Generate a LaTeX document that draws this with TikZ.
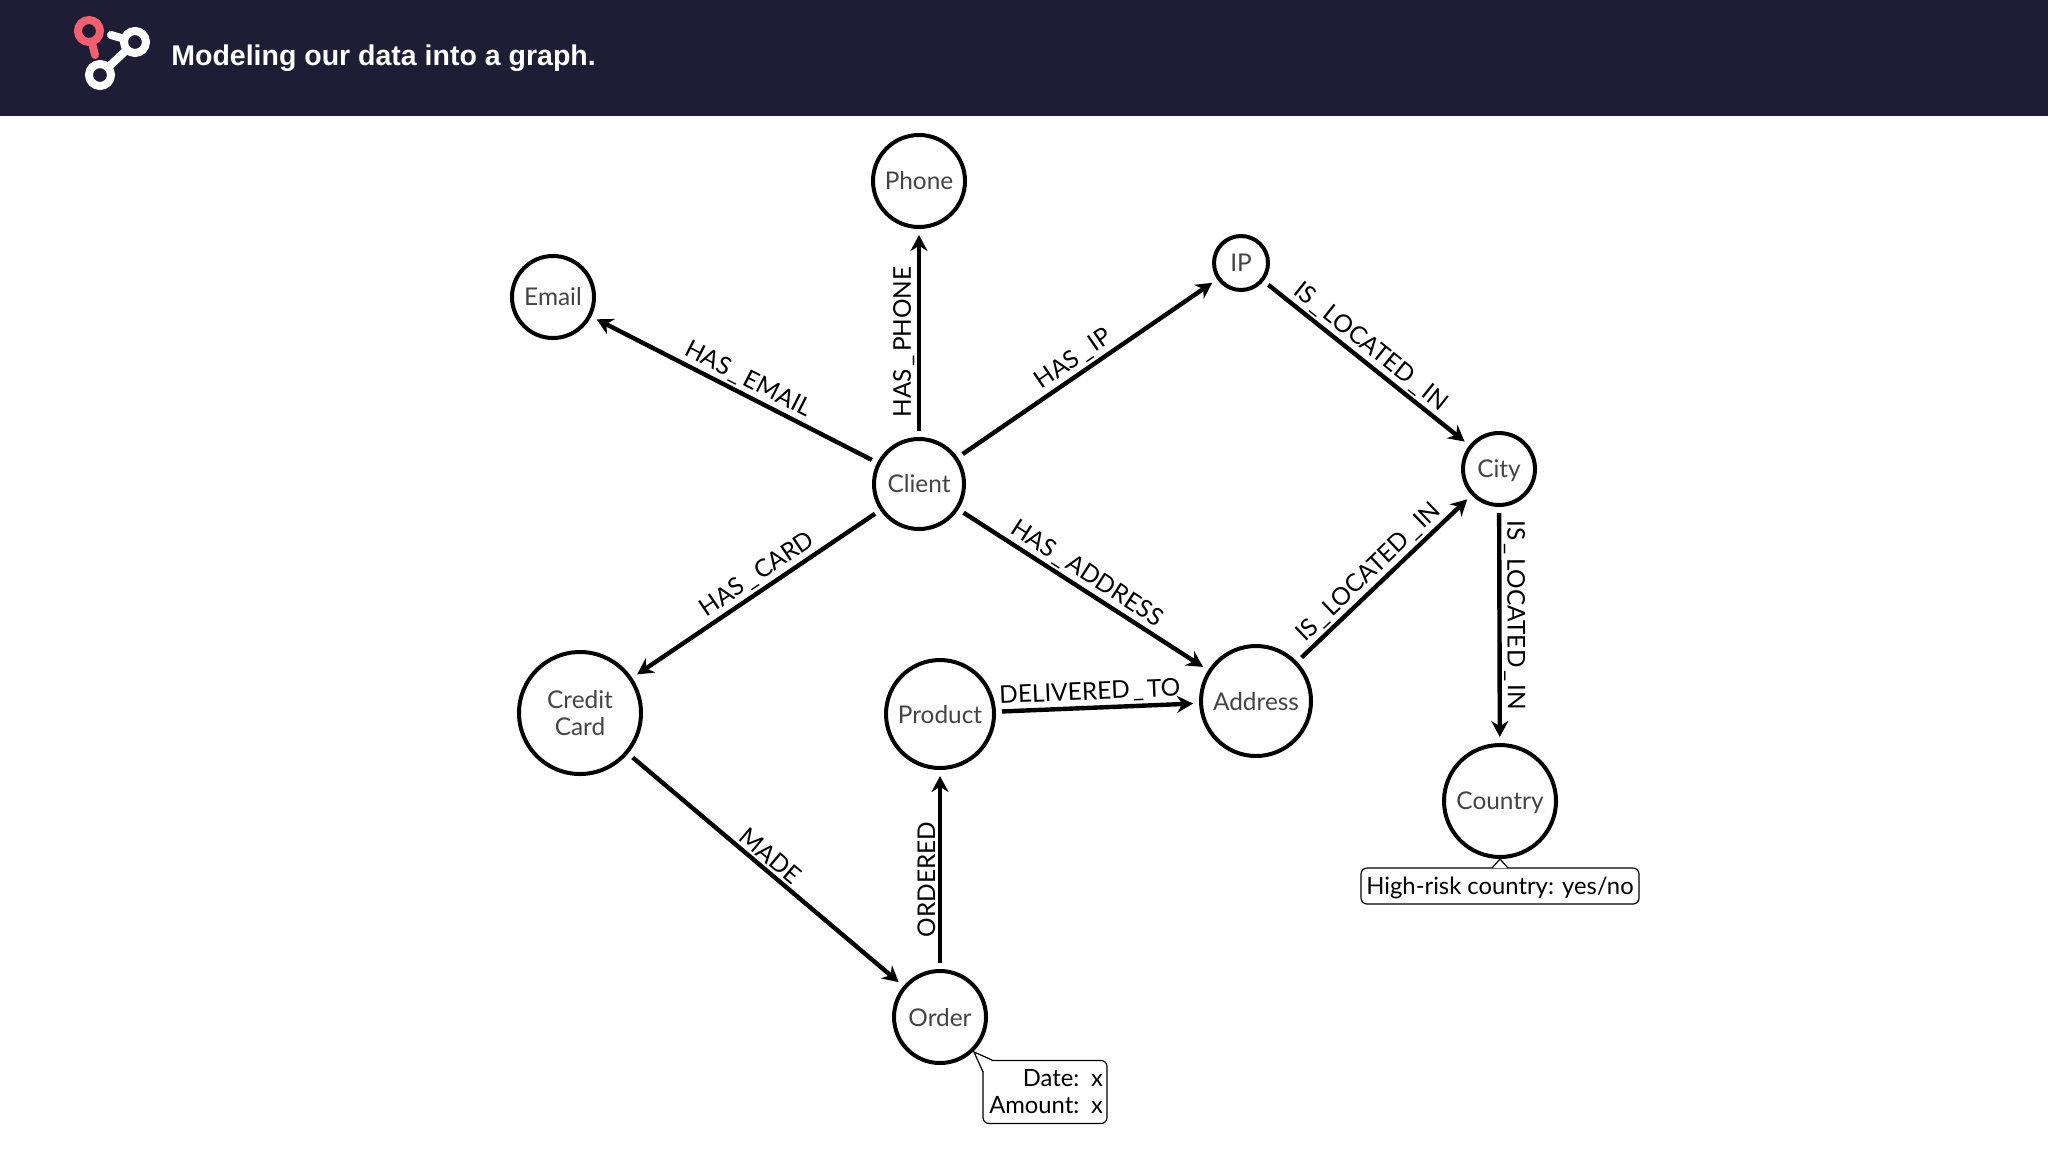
\documentclass[tikz,border=0pt]{standalone}
\usepackage{fontspec}
\setmainfont{Lato}
\newfontfamily\headfont{Liberation Sans}
\usepackage{xcolor}
\usetikzlibrary{arrows.meta,shapes.geometric}
\definecolor{headbg}{HTML}{1F1D36}
\definecolor{logored}{HTML}{F25F6E}
\definecolor{nodetext}{HTML}{444444}
\newcommand{\lowbar}{\kern1.5pt\_\kern1.5pt}

\begin{document}
\begin{tikzpicture}[
    x=0.5pt, y=-0.5pt,
    entity/.style={circle, draw, line width=2pt, inner sep=0pt, fill=white, align=center, text=nodetext, text depth=-1pt, font=\fontsize{12.2}{13.5}\selectfont, minimum size=#1},
    rel/.style={->, line width=2.2pt, shorten >=3pt, shorten <=3pt},
    rellabel/.style={sloped, above, inner sep=1.2pt, font=\fontsize{12.2}{13}\selectfont},
    propbox/.style={rectangle, draw, line width=0.6pt, rounded corners=3pt, inner sep=0pt, align=right, font=\fontsize{11.9}{13.5}\selectfont},
    proptip/.style={draw, line width=0.6pt, fill=white},
    logoring/.style={circle, draw, line width=4pt, inner sep=0pt, minimum size=11pt},
    logolink/.style={line width=4pt, line cap=round},
    >={Stealth[length=8pt,width=8.5pt]}
]
    \useasboundingbox (0,0) rectangle (2048,1152);

    % Header
    \fill[headbg] (0,0) rectangle (2048,116);
    \node[logoring, draw=logored] (logored) at (89,31) {};
    \node[logoring, draw=white] (logoright) at (135,42) {};
    \node[logoring, draw=white] (logobottom) at (100,75) {};
    \coordinate (redend) at (95,55);
    \coordinate (whiteend) at (111,35);
    \draw[logolink, logored] (logored) -- (redend);
    \draw[logolink, white] (logoright) -- (whiteend);
    \draw[logolink, white] (logobottom) -- (logoright);
    \node[anchor=west, inner sep=0pt, text=white, font=\headfont\bfseries\fontsize{14.25}{15}\selectfont] (title) at (171,58) {Modeling our data into a graph.};

    % Entities
    \node[entity=46pt] (phone) at (919,181) {Phone};
    \node[entity=41pt] (email) at (553,297) {Email};
    \node[entity=27pt] (ip) at (1241,263) {IP};
    \node[entity=45pt] (client) at (919,484) {Client};
    \node[entity=36pt] (city) at (1499,469) {City};
    \node[entity=61pt] (card) at (580,713) {Credit\\Card};
    \node[entity=54pt] (product) at (940,714) {Product};
    \node[entity=55pt] (address) at (1256,701) {Address};
    \node[entity=56pt] (country) at (1500,801) {Country};
    \node[entity=46pt] (order) at (940,1017) {Order};

    % Relationships
    \draw[rel] (client) -- node[rellabel, pos=.476] {HAS\lowbar EMAIL} (email);
    \draw[rel] (client) -- node[rellabel, pos=.457] {HAS\lowbar PHONE} (phone);
    \draw[rel] (client) -- node[rellabel, pos=.48] {HAS\lowbar IP} (ip);
    \draw[rel] (client) -- node[rellabel, pos=.46] {HAS\lowbar CARD} (card);
    \draw[rel] (client) -- node[rellabel, pos=.48] {HAS\lowbar ADDRESS} (address);
    \draw[rel] (ip) -- node[rellabel, pos=.475] {IS\lowbar LOCATED\lowbar IN} (city);
    \draw[rel] (address) -- node[rellabel, pos=.47] {IS\lowbar LOCATED\lowbar IN} (city);
    \draw[rel] (city) -- node[rellabel, pos=.46] {IS\lowbar LOCATED\lowbar IN} (country);
    \draw[rel] (product) -- node[rellabel, pos=.465] {DELIVERED\lowbar TO} (address);
    \draw[rel] (card) -- node[rellabel, pos=.485] {MADE} (order);
    \draw[rel] (order) -- node[rellabel, pos=.45] {ORDERED} (product);

    % Properties
    \node[propbox, minimum width=62pt, minimum height=31.5pt, text width=58pt] (orderprops) at (1045,1092) {Date: x\\Amount: x};
    \coordinate (ordertip) at (974,1052);
    \coordinate (ordertipa) at (992,1060);
    \coordinate (ordertipb) at (983,1072);
    \filldraw[proptip] (ordertipa) -- (ordertip) -- (ordertipb);
    \node[propbox, minimum width=139pt, minimum height=18pt, text depth=-1pt] (countryprops) at (1500,886) {High-risk country: yes/no};
    \coordinate (countrytip) at (1500,859);
    \coordinate (countrytipa) at (1492,868);
    \coordinate (countrytipb) at (1508,868);
    \filldraw[proptip] (countrytipa) -- (countrytip) -- (countrytipb);
\end{tikzpicture}
\end{document}
